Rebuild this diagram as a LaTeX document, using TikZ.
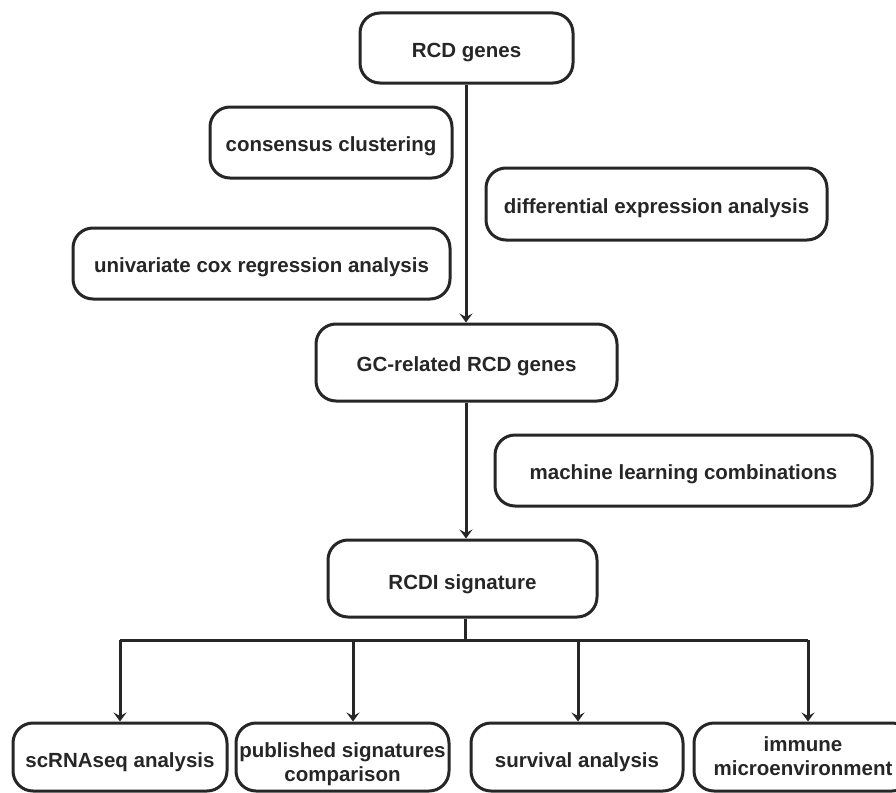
\documentclass[tikz,border=0pt]{standalone}
\usepackage{fontspec}
\setmainfont{Liberation Sans}
\usetikzlibrary{arrows.meta}
\begin{document}
\begin{tikzpicture}[x=1pt,y=-1pt,
  box/.style={draw=black!85, line width=3pt, rounded corners=20pt, inner sep=0pt,
    align=center, font=\bfseries\fontsize{20.5}{24.5}\selectfont, text=black!85,
    text height=18pt, text depth=0pt},
  conn/.style={draw=black!85, line width=3pt},
  arr/.style={conn, -{Stealth[length=9pt,width=13pt,inset=3.5pt]}}]
\clip (0,0) rectangle (896,792);
\fill[white] (0,0) rectangle (896,792);
\node[box, minimum width=213pt, minimum height=70pt] (rcd) at (466.5,48) {RCD genes};
\node[box, minimum width=242pt, minimum height=71pt] (cons) at (331,142.5) {consensus clustering};
\node[box, minimum width=341pt, minimum height=72pt] (diff) at (656.5,204) {differential expression analysis};
\node[box, minimum width=377pt, minimum height=71pt] (univ) at (261.5,263.5) {univariate cox regression analysis};
\node[box, minimum width=301pt, minimum height=77pt] (gc) at (466.5,362.5) {GC-related RCD genes};
\node[box, minimum width=377pt, minimum height=71pt] (ml) at (683.5,470.5) {machine learning combinations};
\node[box, minimum width=269pt, minimum height=77pt, text height=22pt] (rcdi) at (462.5,578.5) {RCDI signature};
\node[box, minimum width=214pt, minimum height=68pt, text height=20pt] (sc) at (120,757) {scRNAseq analysis};
\node[box, minimum width=213pt, minimum height=68pt, text height=49pt, text depth=0pt] (pub) at (342.5,757) {published signatures\\comparison};
\node[box, minimum width=212pt, minimum height=68pt, text height=20pt] (surv) at (577,757) {survival analysis};
\node[box, minimum width=218pt, minimum height=68pt, text height=37pt, text depth=0pt] (imm) at (803,757) {immune\\microenvironment};
\draw[arr] (rcd.south -| 466,0) -- (gc.north -| 466,0);
\draw[arr] (gc.south -| 466,0) -- (rcdi.north -| 466,0);
\coordinate (j) at (465,640);
\draw[conn] (rcdi.south -| j) -- (j);
\draw[conn] (120,640) -- (808,640);
\draw[arr] (120,640) -- (sc.north -| 120,0);
\draw[arr] (353,640) -- (pub.north -| 353,0);
\draw[arr] (578,640) -- (surv.north -| 578,0);
\draw[arr] (808,640) -- (imm.north -| 808,0);
\end{tikzpicture}
\end{document}
